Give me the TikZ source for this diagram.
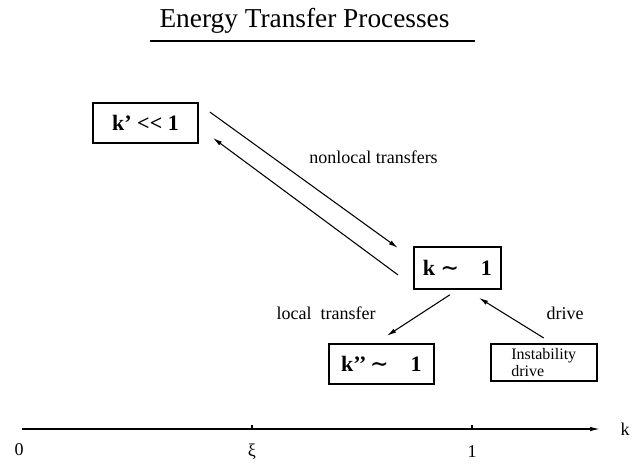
\documentclass[tikz,border=0pt]{standalone}
\usepackage{fontspec}
\setmainfont{Liberation Serif}
\newfontfamily\tildefont{DejaVu Serif}
\usetikzlibrary{arrows.meta,positioning}
\newcommand{\approxk}{{\tildefont\bfseries ∼}}
\tikzset{
  stage/.style={draw,line width=1.4pt,align=center,minimum width=78.75pt,
    minimum height=30pt,inner sep=2pt,font=\fontsize{16.5}{18}\selectfont\bfseries},
  wide/.style={stage},
  mid/.style={stage,minimum width=65.25pt,minimum height=31.5pt},
  source/.style={stage,align=left,minimum width=79.5pt,minimum height=27.75pt,
    font=\fontsize{12}{12.75}\selectfont},
  lbl/.style={font=\fontsize{13.5}{16}\selectfont,inner sep=0pt},
  arrow/.style={-{Latex[length=7pt,width=3.4pt]},line width=0.8pt},
  axisline/.style={-{Latex[length=7.5pt,width=3.4pt]},line width=0.9pt}
}
\begin{document}
\begin{tikzpicture}[x=0.75pt,y=-0.75pt]
\useasboundingbox (0,0) rectangle (641,465);
\node[font=\fontsize{20.5}{24}\selectfont] (title) at (304.5,21) {Energy Transfer Processes};
\draw[line width=1.2pt] (150,41) -- (475,41);
\node[wide] (small) at (145.5,123) {k’ \mbox{<}\mbox{<} 1};
\node[mid,below right=76.5pt and 160.5pt of small] (big) {k \approxk\quad 1};
\node[wide,below=39.75pt of big,xshift=-57pt] (local) {k’’\,\approxk\quad 1};
\node[source,right=41.25pt of local,yshift=1pt] (instab) {Instability\\drive};
\node[lbl] (nonlocalt) at (373.5,157) {nonlocal transfers};
\node[lbl] (localt) at (326,313) {local\ \ transfer};
\node[lbl] (drivet) at (565,313) {drive};
\draw[arrow] ([shift={(11,10)}]small.north east) -- ([shift={(-15,2)}]big.north west);
\draw[arrow] ([shift={(-15,7)}]big.west) -- ([shift={(14,-6)}]small.south east);
\draw[arrow] ([shift={(-7.5,5)}]big.south) -- ([shift={(5.5,-7)}]local.north);
\draw[arrow] ([shift={(0,-5)}]instab.north) -- ([shift={(21.5,8)}]big.south);
% k axis
\coordinate (axstart) at (22,429);
\coordinate (axend) at (600,429);
\node[lbl] (zero) at (19,450) {0};
\node[lbl] (xi) at (252,452) {ξ};
\node[lbl] (one) at (472,452) {1};
\node[lbl] (kax) at (625,429) {k};
\draw[axisline] (axstart) -- (axend);
\draw[line width=0.8pt] (xi |- axstart) -- ++(0,-4);
\draw[line width=0.8pt] (one |- axstart) -- ++(0,-4);
\end{tikzpicture}
\end{document}
